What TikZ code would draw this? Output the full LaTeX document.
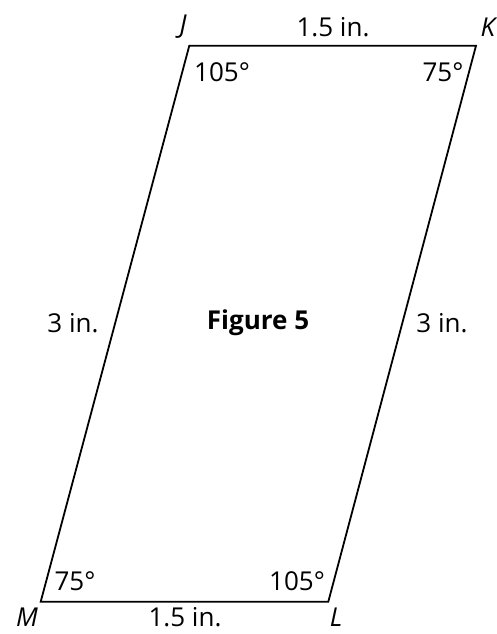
\documentclass[tikz,border=0pt]{standalone}
\usepackage{fontspec}
\setmainfont{Open Sans}
\begin{document}
\begin{tikzpicture}[x=1pt,y=-1pt,
  lbl/.style={font=\fontsize{26}{30}\selectfont, inner sep=0pt},
  vlbl/.style={font=\fontsize{26}{30}\selectfont\itshape, inner sep=0pt},
  edge/.style={line width=1.8pt, line join=miter}]
\useasboundingbox (0,0) rectangle (497,634);
\coordinate (J) at (189.3,45.7);
\coordinate (K) at (476,45.7);
\coordinate (L) at (328.3,601.7);
\coordinate (M) at (40.7,601.7);
\draw[edge] (J) -- (K) -- (L) -- (M) -- cycle;
\node[vlbl] (jl) at (183,27) {J};
\node[vlbl] (kl) at (488,27) {K};
\node[vlbl] (ml) at (27,617) {M};
\node[vlbl] (ll) at (336,617) {L};
\node[lbl] (top) at (333,27) {1.5 in.};
\node[lbl] (bot) at (185,617) {1.5 in.};
\node[lbl] (aj) at (222,72) {105°};
\node[lbl] (ak) at (443,72) {75°};
\node[lbl] (am) at (75,581) {75°};
\node[lbl] (al) at (297,581) {105°};
\node[lbl] (sl) at (73,323) {3 in.};
\node[lbl] (sr) at (442,323) {3 in.};
\node[lbl, font=\fontsize{26}{30}\selectfont\bfseries] (fig) at (258,323) {Figure 5};
\end{tikzpicture}
\end{document}
